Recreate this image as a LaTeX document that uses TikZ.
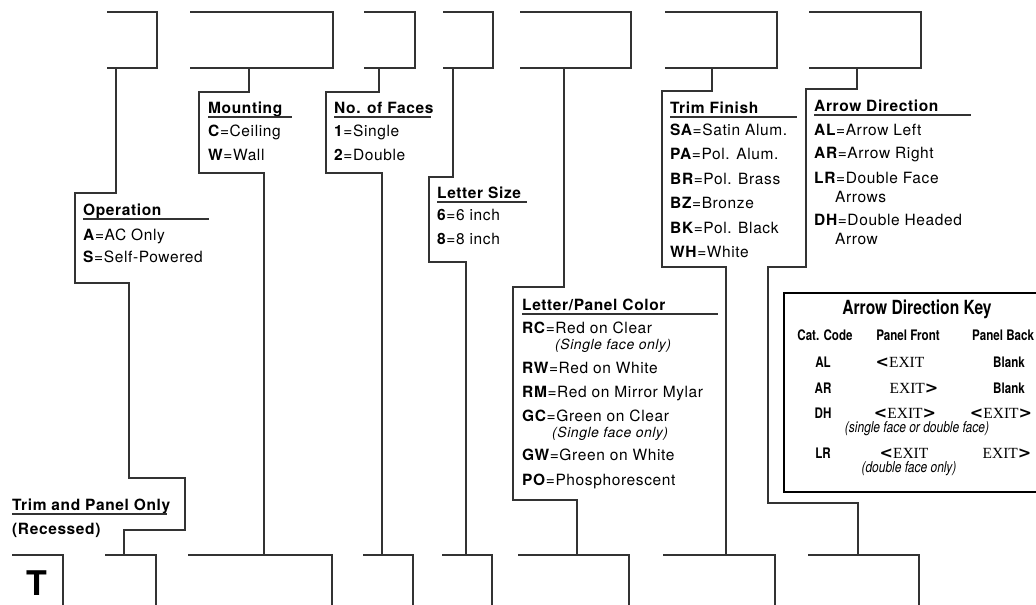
\documentclass[tikz,border=0pt]{standalone}
\usepackage{fontspec}
\setmainfont{TeX Gyre Heros}[LetterSpace=4]
\newfontfamily\condfont{TeX Gyre Heros}[FakeStretch=0.8]
\newfontfamily\exitfont{Liberation Serif}
\newfontfamily\chevfont{DejaVu Sans}
\usetikzlibrary{positioning, calc}

\tikzset{
  wire/.style={line width=1.1pt, draw=black!80},
  head/.style={anchor=base west, inner sep=0pt, font=\fontsize{15.5}{18}\selectfont\bfseries},
  item/.style={anchor=base west, inner sep=0pt, font=\fontsize{15.5}{18}\selectfont},
  note/.style={anchor=base west, inner sep=0pt, font=\fontsize{14}{16}\selectfont\itshape},
  keytext/.style={anchor=base, inner sep=0pt, font=\condfont\fontsize{14.5}{16}\selectfont\bfseries},
  keynote/.style={anchor=base, inner sep=0pt, font=\condfont\fontsize{15}{16}\selectfont\itshape},
  exit/.style={anchor=base, inner sep=0pt, font=\exitfont\fontsize{15.5}{18}\selectfont},
}
\newcommand{\lt}{{\chevfont\fontsize{16}{18}\selectfont\bfseries <}}
\newcommand{\gt}{{\chevfont\fontsize{16}{18}\selectfont\bfseries >}}

\begin{document}
\begin{tikzpicture}[x=1pt, y=-1pt]
\useasboundingbox (0,0) rectangle (1036,605);
\clip (0,0) rectangle (1036,605);

% code slots, top row and bottom row
\foreach \n/\a/\b/\o in {1/107/157/116, 2/190/333/249, 3/364/415/379, 4/443/493/453,
    5/520/631/564, 6/665/777/712, 7/809/921/857} {
  \draw[wire] (\a,12) -| (\b,68) -- (\a,68);
  \coordinate (top\n) at (\o,68);
}
\foreach \n/\a/\b/\i in {0/12/63/12, 1/105/156/124, 2/188/332/264, 3/363/413/382,
    4/442/492/466, 5/518/629/577, 6/663/775/726, 7/808/919/858} {
  \draw[wire] (\a,555) -| (\b,620);
  \coordinate (bot\n) at (\i,555);
}
\node[font=\fontsize{34}{36}\selectfont\bfseries] (tslot) at (37,583) {T};

% leaders from top slots to bottom slots
\draw[wire] (top1) |- (75,193) |- (129,283) |- (185,478) |- (124,530) -- (bot1);
\draw[wire] (top2) |- (199,92) |- (264,173) -- (bot2);
\draw[wire] (top3) |- (326,92) |- (382,173) -- (bot3);
\draw[wire] (top4) |- (429,177) |- (466,262) -- (bot4);
\draw[wire] (top5) |- (513,287) |- (577,500) -- (bot5);
\draw[wire] (top6) |- (662,91) |- (726,267) -- (bot6);
\draw[wire] (top7) |- (806,89) |- (768,267) |- (858,503) -- (bot7);

% headings with rules
\foreach \n/\x/\y/\w/\t in {oper/83/215.5/126/Operation, mount/208/113.5/84/Mounting,
    faces/334/113.5/97/No. of Faces, size/437/198.5/90/Letter Size,
    color/522/310.5/196/{Letter/Panel Color}, trim/670/113.5/127/Trim Finish,
    arrow/814/111.5/157/Arrow Direction, recess/12/510.5/155/Trim and Panel Only} {
  \node[head] (\n) at (\x,\y) {\t};
  \draw[wire] ([yshift=-3.5pt]\n.base west) -- ++(\w,0);
}
\node[head] (recessed) at (12,534.5) {(Recessed)};

% code lists
\foreach \y/\c/\t in {240.5/A/AC Only, 262.5/S/Self-Powered}
  \node[item] (oper-\c) at (83,\y) {\textbf{\c}=\t};
\foreach \y/\c/\t in {136.5/C/Ceiling, 160.5/W/Wall}
  \node[item] (mount-\c) at (208,\y) {\textbf{\c}=\t};
\foreach \y/\c/\t in {136.5/1/Single, 160.5/2/Double}
  \node[item] (faces-\c) at (334,\y) {\textbf{\c}=\t};
\foreach \y/\c/\t in {220.5/6/6 inch, 244.5/8/8 inch}
  \node[item] (size-\c) at (437,\y) {\textbf{\c}=\t};
\foreach \y/\c/\t in {333.5/RC/Red on Clear, 373.5/RW/Red on White,
    397.5/RM/Red on Mirror Mylar, 421.5/GC/Green on Clear,
    460.5/GW/Green on White, 485.5/PO/Phosphorescent}
  \node[item] (color-\c) at (522,\y) {\textbf{\c}=\t};
\node[note] (color-rc) at (555,349.5) {(Single face only)};
\node[note] (color-gc) at (552,437.5) {(Single face only)};
\foreach \y/\c/\t in {135.5/SA/Satin Alum., 159.9/PA/Pol. Alum., 184.3/BR/Pol. Brass,
    208.7/BZ/Bronze, 233.1/BK/Pol. Black, 257.5/WH/White}
  \node[item] (trim-\c) at (670,\y) {\textbf{\c}=\t};
\foreach \y/\c/\t in {135.5/AL/Arrow Left, 158.5/AR/Arrow Right,
    183.5/LR/Double Face, 225.5/DH/Double Headed}
  \node[item] (arrow-\c) at (814,\y) {\textbf{\c}=\t};
\node[item] (arrow-lr2) at (835,202.5) {Arrows};
\node[item] (arrow-dh2) at (835,244.5) {Arrow};

% key table
\node[draw, line width=1.8pt, anchor=north west, minimum width=280pt,
  minimum height=199pt, inner sep=0pt] (keybox) at (783,292) {};
\node[keytext, font=\condfont\fontsize{19.5}{21}\selectfont\bfseries] (keytitle) at (917,314) {Arrow Direction Key};
\node[keytext] (kcat) at (825,340) {Cat. Code};
\node[keytext] (kfront) at (908,340) {Panel Front};
\node[keytext, anchor=base west] (kback) at (972,340) {Panel Back};
\foreach \y/\c in {367/AL, 393/AR, 418.5/DH, 458.5/LR}
  \node[keytext] (k-\c) at (823,\y) {\c};
\node[exit] (al-front) at (900,367) {\lt EXIT};
\node[keytext] (al-back) at (1009,367) {Blank};
\node[exit] (ar-front) at (914,393) {EXIT\gt};
\node[keytext] (ar-back) at (1009,393) {Blank};
\node[exit] (dh-front) at (905,418.5) {\lt EXIT\gt};
\node[exit] (dh-back) at (1001,418.5) {\lt EXIT\gt};
\node[keynote] (dh-note) at (917,432.5) {(single face or double face)};
\node[exit] (lr-front) at (904,458.5) {\lt EXIT};
\node[exit] (lr-back) at (1007,458.5) {EXIT\gt};
\node[keynote] (lr-note) at (909,472.5) {(double face only)};
\end{tikzpicture}
\end{document}
